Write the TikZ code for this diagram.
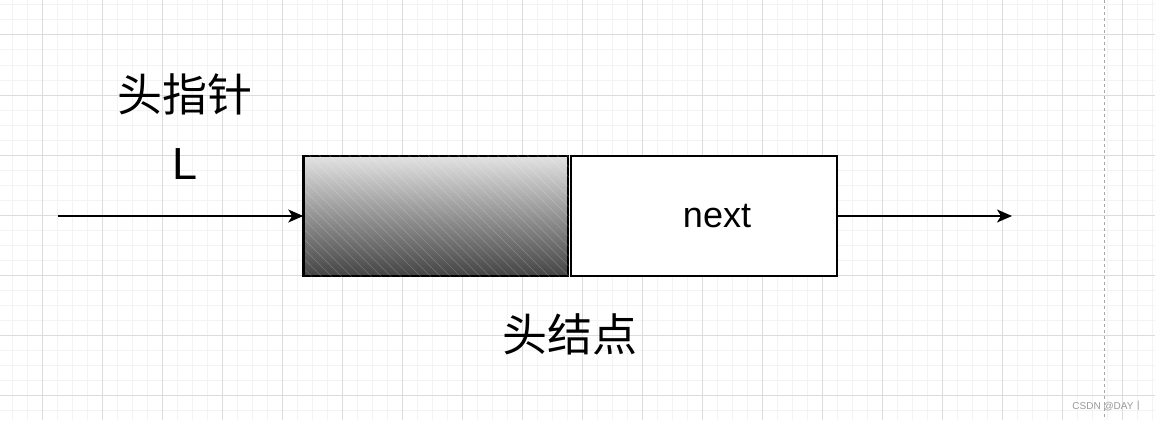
\documentclass[tikz,border=0pt]{standalone}
\usepackage{fontspec}
\setmainfont{Liberation Sans}
\newfontfamily\cjk{Noto Sans CJK SC}
\usetikzlibrary{arrows.meta,patterns.meta}
\definecolor{gridminor}{HTML}{F3F3F3}
\definecolor{gridmajor}{HTML}{DCDCDC}
\definecolor{shadetop}{HTML}{E2E2E2}
\definecolor{shadebot}{HTML}{444444}
\tikzset{
  conn/.style={line width=1.4pt,-{Stealth[length=15pt,width=13pt,inset=4pt]}},
  cell/.style={draw=black,line width=1.5pt,minimum width=266pt,minimum height=120pt,inner sep=0pt},
  bigcjk/.style={font=\cjk\fontsize{45}{52}\selectfont},
  lbl/.style={font=\fontsize{45}{50}\selectfont},
  wm/.style={font=\fontsize{10}{12}\selectfont,text=gray!80}
}
\begin{document}
\begin{tikzpicture}[x=1pt,y=-1pt]
\useasboundingbox (0,0) rectangle (1155,420);
\fill[white] (0,0) rectangle (1155,420);
% grid
\foreach \x in {12,27,...,1155} \draw[gridminor,line width=1pt] (\x,0) -- (\x,420);
\foreach \y in {5,20,...,420} \draw[gridminor,line width=1pt] (0,\y) -- (1155,\y);
\foreach \x in {42,102,...,1155} \draw[gridmajor,line width=1pt] (\x,0) -- (\x,420);
\foreach \y in {35,95,...,420} \draw[gridmajor,line width=1pt] (0,\y) -- (1155,\y);
\draw[gray!70,dashed,line width=0.8pt] (1104,0) -- (1104,420);
% nodes
\node[cell,minimum width=264pt,top color=shadetop,bottom color=shadebot] (data) at (436,216) {};
\fill[pattern={Lines[angle=-45,distance=7pt,line width=0.5pt]},pattern color=white,opacity=0.22] (data.north west) rectangle (data.south east);
\draw[line width=3pt] (data.north west) -- (data.south west);
\node[cell,fill=white] (next) at (704,216) {};
\node[font=\fontsize{36}{40}\selectfont] at (717,216) (nexttext) {next};
\coordinate (start) at (58,216);
\coordinate (end) at (1012,216);
\node[bigcjk] (headptr) at (185,94) {头指针};
\node[lbl] (L) at (185,164) {L};
\node[bigcjk] (headnode) at (570,334) {头结点};
\node[wm,anchor=east] (mark) at (1147,406) {CSDN @DAY{\cjk 丨}};
% connectors
\draw[conn] (start) -- (data.west);
\draw[conn] (next.east) -- (end);
\end{tikzpicture}
\end{document}
